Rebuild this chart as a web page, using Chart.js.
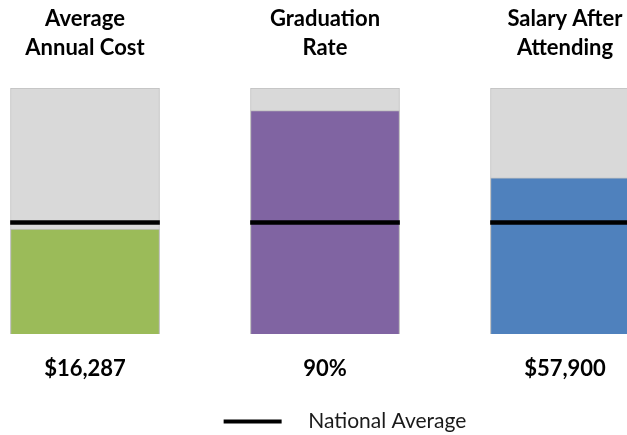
<!DOCTYPE html>
<html>
<head>
<meta charset="utf-8">
<script src="https://cdn.jsdelivr.net/npm/chart.js@4"></script>
<style>
  html, body { margin: 0; padding: 0; background: #fff; overflow: hidden; width: 627px; height: 435px; }
  #wrap { position: absolute; left: -35px; top: 0; }
</style>
</head>
<body>
<div id="wrap"><canvas id="scorecard" width="760" height="442"></canvas></div>
<script>
// metric panels
const categories = ["Average Annual Cost", "Graduation Rate", "Salary After Attending"];
const titleLines = [["Average", "Annual Cost"], ["Graduation", "Rate"], ["Salary After", "Attending"]];
const valueLabels = ["$16,287", "90%", "$57,900"];

// bar heights as share of each panel (0-100)
const panelMax = [100, 100, 100];
const schoolValues = [42.6, 90.8, 63.5];
const nationalAverage = [45.3, 45.3, 45.3];
const lineHalf = 0.8; // half thickness of the average marker, in panel units

const barColors = ["#9bbb59", "#8064a2", "#4f81bd"];

document.addEventListener("DOMContentLoaded", () => {
  const ctx = document.getElementById("scorecard").getContext("2d");

  new Chart(ctx, {
    type: "bar",
    data: {
      labels: categories,
      datasets: [
        {
          label: "Scale",
          data: panelMax,
          backgroundColor: "#d9d9d9",
          borderColor: "#bfbfbf",
          borderWidth: 1,
          barThickness: 149,
          grouped: false,
          order: 3
        },
        {
          label: "School",
          data: schoolValues,
          backgroundColor: barColors,
          borderColor: "#bfbfbf",
          borderWidth: 1,
          barThickness: 149,
          grouped: false,
          order: 2
        },
        {
          label: "   National Average",
          data: nationalAverage.map(v => [v - lineHalf, v + lineHalf]),
          backgroundColor: "#000000",
          borderWidth: 0,
          barThickness: 149,
          grouped: false,
          order: 1
        }
      ]
    },
    options: {
      responsive: false,
      animation: false,
      layout: { padding: 0 },
      plugins: {
        tooltip: { enabled: false },
        legend: {
          position: "bottom",
          labels: {
            filter: item => item.datasetIndex === 2,
            boxWidth: 58,
            boxHeight: 4,
            padding: 10,
            color: "#1a1a1a",
            font: { family: "Lato", size: 21 }
          }
        }
      },
      scales: {
        x: {
          position: "bottom",
          grid: { display: false },
          border: { display: false },
          ticks: {
            autoSkip: false,
            maxRotation: 0,
            padding: 13,
            color: "#000",
            font: { family: "Lato", size: 22, weight: "bold", lineHeight: 1.3 },
            callback: (v, i) => valueLabels[i]
          },
          afterFit: s => { s.height = 67; }
        },
        x2: {
          type: "category",
          position: "top",
          labels: titleLines,
          grid: { display: false },
          border: { display: false },
          ticks: {
            autoSkip: false,
            maxRotation: 0,
            padding: 18,
            color: "#000",
            font: { family: "Lato", size: 22, weight: "bold", lineHeight: 1.3 }
          },
          afterFit: s => { s.height = 88; }
        },
        y: {
          display: false,
          min: 0,
          max: 100
        },
        yR: {
          position: "right",
          min: 0,
          max: 100,
          grid: { display: false },
          border: { display: false },
          ticks: { display: false },
          afterFit: s => { s.width = 40; }
        }
      }
    }
  });
});
</script>
</body>
</html>
